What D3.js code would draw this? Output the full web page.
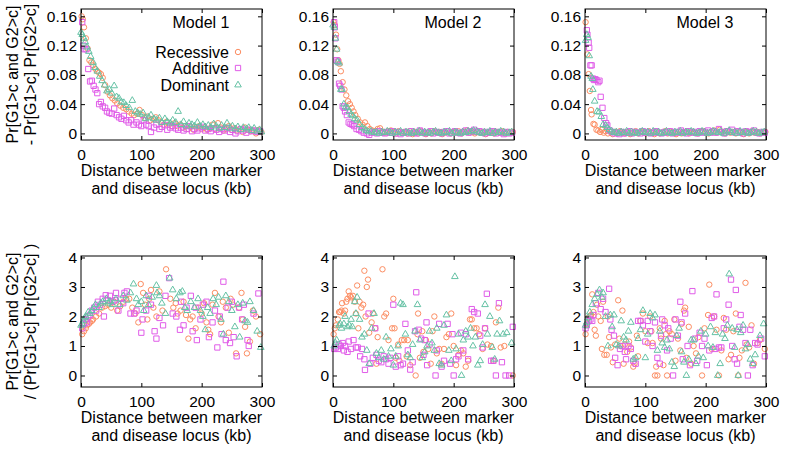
<!DOCTYPE html>
<html><head><meta charset="utf-8">
<script src="https://cdn.jsdelivr.net/npm/d3@7"></script>
<style>
html,body{margin:0;padding:0;background:#fff;}
svg{display:block;font-family:"Liberation Sans",Arial,Helvetica,sans-serif;}
</style></head>
<body>
<svg id="chart" width="785" height="451"></svg>
<script>
// ---------------- DATA ----------------
const seriesNames = ["Recessive", "Additive", "Dominant"];
const modelTitles = ["Model 1", "Model 2", "Model 3"];
const xTicks = [0, 100, 200, 300];
const diffTicks = [0, 0.04, 0.08, 0.12, 0.16];
const ratioTicks = [0, 1, 2, 3, 4];
const yLabelDiff = ["Pr[G1>c and G2>c]", "- Pr[G1>c] Pr[G2>c]"];
const yLabelRatio = ["Pr[G1>c and G2>c]", "/ (Pr[G1>c] Pr[G2>c] )"];
const xLabel = ["Distance between marker", "and disease locus (kb)"];

// Top row: Pr[G1>c and G2>c] - Pr[G1>c]Pr[G2>c]  ([distance kb, value])
const diffM1Rec = [[1,0.160],[3,0.156],[5,0.145],[8,0.13],[11,0.116],[14,0.10],[17,0.097],[20,0.093],[24,0.088],[27,0.085],[30,0.083],[33,0.081],[36,0.076],[40,0.066],[44,0.057],[48,0.052],[52,0.048],[56,0.045],[60,0.041],[65,0.038],[70,0.035],[75,0.033],[79,0.03],[84,0.027],[88,0.025],[93,0.027],[97,0.032],[101,0.025],[106,0.021],[110,0.023],[115,0.018],[119,0.02],[124,0.022],[128,0.018],[133,0.015],[137,0.012],[142,0.016],[146,0.012],[151,0.01],[155,0.014],[160,0.01],[164,0.012],[169,0.008],[173,0.01],[178,0.006],[182,0.009],[187,0.005],[191,0.008],[196,0.01],[200,0.006],[205,0.008],[209,0.005],[214,0.007],[218,0.012],[223,0.006],[227,0.014],[232,0.008],[236,0.004],[241,0.006],[245,0.01],[250,0.005],[254,0.007],[259,0.004],[263,0.006],[268,0.002],[272,0.008],[277,0.005],[281,0.003],[286,0.004],[290,0.0],[295,0.005],[299,0.002]];
const diffM1Add = [[2,0.152],[4,0.12],[6,0.115],[9,0.115],[12,0.088],[15,0.071],[18,0.072],[21,0.065],[24,0.06],[27,0.055],[30,0.04],[33,0.043],[36,0.037],[40,0.035],[43,0.03],[47,0.028],[51,0.027],[55,0.034],[59,0.025],[63,0.022],[67,0.02],[71,0.024],[75,0.018],[79,0.015],[83,0.018],[87,0.012],[92,0.015],[96,0.012],[100,0.01],[104,0.018],[108,0.012],[112,0.01],[116,0.002],[121,0.008],[125,0.012],[130,0.006],[134,0.009],[139,0.011],[143,0.005],[148,0.008],[152,0.01],[157,0.007],[161,0.005],[166,0.008],[170,0.004],[175,0.006],[179,0.01],[184,0.003],[188,0.006],[193,0.004],[197,0.007],[202,0.009],[206,0.004],[211,0.006],[215,0.003],[220,0.007],[224,0.005],[229,0.002],[233,0.006],[238,0.004],[242,0.007],[247,0.002],[251,0.005],[256,0.0],[260,0.003],[265,0.006],[269,0.004],[274,0.001],[278,0.005],[283,0.003],[287,0.004],[292,0.002],[297,0.003]];
const diffM1Dom = [[0,0.138],[2,0.135],[5,0.13],[7,0.125],[10,0.118],[13,0.112],[16,0.105],[20,0.097],[23,0.09],[27,0.085],[31,0.078],[35,0.072],[39,0.066],[43,0.058],[47,0.06],[51,0.055],[55,0.065],[59,0.05],[63,0.048],[67,0.043],[71,0.042],[75,0.038],[80,0.035],[85,0.045],[90,0.03],[94,0.028],[98,0.026],[103,0.028],[107,0.02],[112,0.022],[116,0.025],[121,0.02],[125,0.018],[130,0.021],[134,0.015],[139,0.02],[143,0.016],[148,0.014],[152,0.018],[157,0.015],[161,0.03],[166,0.012],[170,0.016],[175,0.01],[179,0.014],[184,0.012],[188,0.01],[193,0.015],[197,0.01],[202,0.012],[206,0.009],[211,0.011],[215,0.008],[220,0.013],[224,0.01],[229,0.007],[233,0.011],[238,0.008],[242,0.014],[247,0.007],[251,0.01],[256,0.006],[260,0.009],[265,0.005],[269,0.008],[274,0.006],[278,0.008],[283,0.004],[287,0.007],[292,0.003],[296,0.005],[299,0.002]];

const diffM2Rec = [[1,0.152],[3,0.148],[5,0.135],[7,0.115],[9,0.1],[11,0.095],[13,0.085],[16,0.07],[19,0.06],[22,0.052],[25,0.044],[28,0.04],[31,0.035],[34,0.03],[37,0.025],[41,0.02],[45,0.015],[49,0.012],[53,0.015],[57,0.01],[61,0.006],[65,0.004],[70,0.003],[74,0.006],[78,0.007],[83,0.002],[87,0.001],[92,0.003],[96,0.004],[100,0.002],[105,0.0],[109,0.003],[114,0.001],[118,0.002],[123,0.0],[127,0.003],[132,-0.001],[136,0.002],[141,0.0],[145,0.003],[150,0.001],[154,-0.001],[159,0.002],[163,0.0],[168,0.003],[172,0.001],[177,0.002],[181,-0.001],[186,0.001],[190,0.003],[195,0.0],[199,0.002],[204,0.001],[208,0.003],[213,0.0],[217,0.002],[222,0.004],[226,0.001],[231,0.002],[235,0.0],[240,0.003],[244,0.001],[249,0.002],[253,-0.001],[258,0.001],[262,0.003],[267,0.0],[271,0.002],[276,0.001],[280,0.003],[285,0.0],[289,0.002],[294,0.001],[298,0.002]];
const diffM2Add = [[2,0.152],[3,0.145],[4,0.13],[6,0.1],[8,0.098],[10,0.068],[12,0.065],[14,0.06],[16,0.037],[18,0.035],[20,0.03],[23,0.025],[26,0.015],[29,0.013],[32,0.012],[35,0.01],[39,0.006],[43,0.005],[47,0.003],[51,0.001],[56,0.0],[60,-0.002],[64,0.001],[68,0.002],[73,0.0],[77,0.003],[81,0.001],[86,0.0],[90,0.002],[95,0.001],[99,0.003],[103,0.0],[108,0.002],[112,-0.001],[117,0.001],[121,0.002],[126,0.0],[130,0.003],[135,0.001],[139,0.0],[144,0.004],[148,0.002],[153,0.0],[157,0.001],[162,0.003],[166,0.0],[171,0.002],[175,0.001],[180,0.0],[184,0.002],[189,0.003],[193,0.0],[198,0.001],[202,0.003],[207,0.001],[211,0.0],[216,0.002],[220,0.004],[225,0.001],[229,0.003],[234,0.005],[238,0.002],[243,0.003],[247,0.001],[252,0.0],[256,0.002],[261,0.001],[265,0.003],[270,0.0],[274,0.002],[279,0.001],[283,-0.001],[288,0.002],[292,0.0],[297,0.001]];
const diffM2Dom = [[0,0.148],[2,0.145],[4,0.13],[6,0.115],[8,0.098],[10,0.096],[13,0.06],[15,0.06],[18,0.04],[21,0.036],[24,0.035],[27,0.03],[30,0.026],[33,0.024],[36,0.02],[40,0.018],[44,0.012],[48,0.008],[52,0.006],[55,0.004],[59,0.002],[63,0.003],[68,0.001],[72,0.002],[76,0.0],[81,0.002],[85,0.001],[90,0.003],[94,0.002],[98,0.0],[103,0.002],[107,0.001],[112,0.003],[116,0.0],[121,0.002],[125,0.001],[130,0.0],[134,0.002],[139,0.001],[143,0.003],[148,0.0],[152,0.002],[157,0.001],[161,0.0],[166,0.002],[170,0.003],[175,0.001],[179,0.0],[184,0.002],[188,0.001],[193,0.003],[197,0.0],[202,0.002],[206,0.001],[211,0.0],[215,0.002],[220,0.001],[224,0.003],[229,0.002],[233,0.004],[238,0.003],[242,0.001],[247,0.0],[251,0.002],[256,0.001],[260,0.003],[265,0.0],[269,0.002],[274,0.001],[278,0.003],[283,0.002],[287,0.0],[292,0.001],[296,0.002]];

const diffM3Rec = [[1,0.152],[4,0.108],[6,0.081],[8,0.058],[10,0.032],[11,0.026],[14,0.013],[16,0.012],[19,0.005],[22,0.004],[25,0.002],[28,0.005],[31,0.001],[34,0.003],[38,0.0],[42,0.002],[46,-0.001],[50,0.002],[54,0.0],[58,0.003],[62,0.001],[66,0.0],[71,0.002],[75,-0.001],[79,0.001],[84,0.003],[88,0.0],[93,0.002],[97,0.001],[101,0.0],[106,0.003],[110,0.001],[115,-0.001],[119,0.002],[124,0.0],[128,0.001],[133,0.003],[137,0.0],[142,0.002],[146,0.001],[151,-0.001],[155,0.002],[160,0.0],[164,0.001],[169,0.003],[173,0.0],[178,0.002],[182,0.001],[187,0.0],[191,0.002],[196,0.003],[200,0.001],[205,0.0],[209,0.002],[214,0.004],[218,0.001],[223,0.005],[227,0.002],[232,0.0],[236,0.003],[241,0.001],[245,0.002],[250,0.0],[254,0.003],[259,0.001],[263,-0.001],[268,0.002],[272,0.0],[277,0.003],[281,0.001],[286,0.002],[290,0.0],[295,0.001],[299,0.002]];
const diffM3Add = [[3,0.141],[4,0.135],[6,0.124],[7,0.117],[9,0.093],[11,0.093],[13,0.075],[15,0.073],[17,0.074],[19,0.073],[22,0.07],[24,0.072],[26,0.05],[29,0.035],[32,0.021],[35,0.014],[37,0.011],[41,0.004],[45,0.002],[49,0.0],[53,0.001],[57,-0.001],[61,0.002],[65,0.0],[70,0.001],[74,0.003],[78,0.0],[83,0.002],[87,0.001],[92,0.0],[96,0.003],[100,0.001],[105,0.002],[109,0.0],[114,0.001],[118,0.003],[123,0.001],[127,0.0],[132,0.002],[136,0.001],[141,0.003],[145,0.0],[150,0.002],[154,0.001],[159,0.004],[163,0.002],[168,0.0],[172,0.003],[177,0.001],[181,0.002],[186,0.0],[190,0.003],[195,0.001],[199,0.002],[204,0.004],[208,0.001],[213,0.003],[217,0.001],[222,0.006],[226,0.002],[231,0.0],[235,0.003],[240,0.002],[244,0.005],[249,0.001],[253,0.003],[258,0.002],[262,0.0],[267,0.003],[271,0.001],[276,0.002],[280,0.004],[285,0.001],[289,0.0],[294,0.002],[298,0.001]];
const diffM3Dom = [[1,0.127],[3,0.135],[5,0.131],[7,0.106],[10,0.078],[12,0.075],[13,0.06],[16,0.044],[20,0.03],[23,0.029],[27,0.023],[30,0.012],[34,0.011],[37,0.008],[40,0.005],[44,0.003],[48,0.001],[52,0.002],[56,0.0],[60,0.002],[64,0.001],[69,0.003],[73,0.0],[77,0.002],[82,0.001],[86,0.0],[91,0.002],[95,0.003],[99,0.001],[104,0.002],[108,0.0],[113,0.003],[117,0.001],[122,0.002],[126,0.0],[131,0.001],[135,0.003],[140,0.001],[144,0.0],[149,0.002],[153,0.001],[158,0.003],[162,0.0],[167,0.002],[171,0.001],[176,0.003],[180,0.002],[185,0.0],[189,0.001],[194,0.003],[198,0.002],[203,0.0],[207,0.001],[212,0.003],[216,0.002],[221,0.001],[225,0.003],[230,0.0],[234,0.002],[239,0.004],[243,0.001],[248,0.002],[252,0.0],[257,0.003],[261,0.001],[266,0.002],[270,0.0],[275,0.001],[279,0.003],[284,0.002],[288,0.0],[293,0.001],[297,0.002]];

// Bottom row: Pr[G1>c and G2>c] / (Pr[G1>c]Pr[G2>c])
const ratioM1Rec = [[2,1.4],[5,1.5],[8,1.6],[10,1.7],[13,1.75],[15,1.8],[18,1.85],[20,1.9],[25,2.0],[30,2.1],[35,2.3],[40,2.35],[45,2.4],[50,2.3],[55,2.5],[60,2.2],[65,2.35],[70,2.5],[75,2.6],[80,2.6],[85,2.3],[90,2.1],[95,1.8],[99,3.1],[103,2.8],[106,2.4],[110,1.9],[113,2.6],[116,2.9],[120,2.3],[125,2.0],[130,2.85],[135,2.2],[141,3.6],[148,2.6],[153,2.3],[157,2.45],[160,2.1],[165,2.2],[170,2.5],[174,2.05],[178,1.25],[181,1.9],[185,2.0],[190,1.6],[195,2.3],[200,2.1],[204,2.45],[208,1.8],[211,1.55],[214,1.4],[218,2.4],[222,2.8],[228,2.0],[232,1.8],[235,2.5],[240,2.3],[245,1.45],[248,2.6],[252,2.4],[257,0.75],[262,2.3],[266,2.8],[268,1.9],[272,1.65],[275,0.75],[280,1.15],[285,2.2],[290,2.0],[297,1.4]];
const ratioM1Add = [[2,1.6],[5,1.75],[8,1.9],[10,1.8],[12,2.0],[15,2.05],[18,2.2],[22,2.3],[25,2.2],[28,2.5],[32,2.4],[36,2.6],[38,2.0],[41,2.72],[45,2.55],[48,2.7],[52,2.5],[56,2.55],[58,2.8],[62,2.2],[66,2.6],[70,2.45],[72,2.8],[76,2.85],[82,2.1],[88,2.1],[92,2.2],[100,1.45],[102,1.9],[108,2.2],[112,2.7],[116,2.4],[122,1.5],[125,1.25],[130,1.95],[136,1.7],[140,2.7],[146,3.3],[152,2.1],[158,2.0],[164,1.55],[166,2.5],[170,1.7],[175,2.3],[182,2.7],[185,1.5],[190,2.3],[192,1.2],[198,1.9],[202,2.4],[208,2.5],[212,1.3],[218,1.8],[222,2.2],[226,0.95],[230,2.0],[233,1.4],[236,3.18],[240,1.2],[243,2.3],[247,1.1],[250,2.5],[253,1.3],[258,0.65],[262,2.3],[267,1.9],[270,2.4],[276,1.2],[278,1.0],[286,2.1],[294,2.78]];
const ratioM1Dom = [[0,1.7],[2,1.75],[4,1.85],[6,1.95],[8,2.0],[12,2.15],[15,2.1],[18,2.2],[21,2.3],[24,2.4],[30,2.3],[33,2.45],[36,2.5],[42,2.6],[45,2.45],[48,2.5],[52,2.4],[58,2.6],[64,2.4],[70,2.7],[76,2.55],[82,2.8],[87,3.1],[92,2.6],[95,2.4],[100,2.5],[104,2.2],[108,2.7],[112,2.4],[118,2.65],[125,3.05],[126,2.8],[130,2.7],[134,2.45],[140,2.1],[147,3.3],[152,2.9],[158,2.6],[164,2.8],[168,2.85],[172,2.3],[176,2.2],[182,2.5],[188,2.3],[194,2.6],[198,2.2],[202,2.0],[206,1.55],[210,2.3],[214,2.1],[219,2.6],[224,2.4],[228,2.65],[232,1.9],[236,1.4],[240,2.7],[245,2.5],[250,2.2],[255,1.65],[260,2.4],[263,1.3],[268,2.45],[272,1.85],[276,1.8],[280,2.5],[286,2.2],[292,1.5],[298,0.95]];

const ratioM2Rec = [[1,1.4],[3,1.6],[5,1.7],[8,1.9],[10,2.15],[12,2.15],[14,2.2],[15,2.45],[18,2.1],[20,2.2],[22,2.5],[24,2.6],[26,2.85],[28,2.7],[30,2.65],[33,2.7],[36,2.5],[38,2.1],[40,3.05],[42,1.6],[44,2.5],[47,2.3],[50,2.4],[52,3.55],[54,2.0],[56,3.0],[58,3.25],[60,1.45],[64,1.8],[66,2.1],[70,1.6],[72,0.4],[74,1.3],[82,3.6],[85,2.0],[88,2.1],[92,1.2],[98,1.6],[100,2.6],[102,1.6],[104,0.6],[108,1.05],[110,0.5],[114,1.2],[118,1.2],[122,0.65],[124,1.2],[128,0.35],[137,0.0],[140,1.4],[141,2.1],[144,0.6],[148,1.5],[150,0.8],[154,1.2],[158,0.9],[162,0.4],[165,1.5],[168,2.0],[172,0.75],[176,0.9],[180,0.4],[184,0.9],[188,1.3],[192,1.4],[196,2.1],[200,1.0],[204,0.35],[208,0.7],[212,0.85],[216,0.75],[220,0.3],[224,0.5],[227,1.9],[230,1.9],[234,1.6],[238,1.6],[242,1.4],[248,0.9],[252,1.6],[256,1.05],[262,1.0],[266,0.5],[270,1.8],[274,2.3],[278,0.95],[284,1.0],[298,0.0]];
const ratioM2Add = [[2,0.9],[5,0.95],[8,0.9],[10,1.05],[13,1.0],[16,1.1],[18,0.85],[20,1.0],[24,0.8],[26,1.15],[30,0.9],[34,1.2],[38,0.95],[41,0.95],[45,0.65],[48,0.9],[52,0.55],[53,0.19],[59,2.1],[62,0.4],[66,0.6],[70,1.6],[72,0.7],[76,0.5],[80,0.45],[84,0.65],[88,0.55],[92,0.4],[95,0.6],[100,2.4],[104,0.3],[108,0.65],[112,0.35],[116,0.4],[120,1.75],[124,0.85],[128,0.2],[132,0.45],[136,1.5],[138,2.82],[142,1.55],[146,1.25],[150,0.7],[152,1.2],[155,1.8],[156,0.35],[160,1.05],[170,0.0],[172,0.85],[176,1.75],[180,0.3],[184,0.5],[190,1.75],[194,0.4],[198,1.4],[200,0.0],[204,0.55],[208,0.65],[212,1.45],[216,0.85],[220,1.4],[224,0.55],[230,2.25],[234,2.15],[240,2.1],[244,1.35],[248,0.95],[252,1.6],[255,2.77],[262,0.5],[266,0.5],[270,0.0],[275,2.45],[280,0.45],[286,0.0],[292,0.0],[298,1.65]];
const ratioM2Dom = [[2,1.0],[4,1.1],[6,1.2],[10,1.7],[12,1.75],[14,1.6],[18,1.75],[20,2.0],[24,1.65],[27,1.7],[30,1.9],[32,1.65],[36,2.5],[38,2.1],[40,2.65],[44,1.9],[48,1.3],[52,1.4],[56,0.85],[60,0.4],[64,1.6],[68,2.1],[72,0.75],[76,0.6],[80,0.85],[84,0.55],[88,1.3],[92,0.65],[96,0.9],[100,0.35],[104,0.65],[108,1.0],[112,2.45],[116,2.4],[120,1.4],[124,0.7],[128,0.6],[132,1.05],[136,1.5],[140,2.4],[144,1.2],[148,0.6],[152,0.8],[156,1.0],[160,1.5],[164,1.1],[168,0.85],[172,1.6],[176,0.4],[180,0.35],[184,1.7],[188,2.05],[192,0.85],[196,0.5],[202,3.35],[204,0.9],[208,1.4],[213,0.0],[216,1.2],[220,1.5],[224,1.3],[228,1.6],[232,1.0],[236,1.3],[240,0.35],[244,0.5],[248,1.05],[252,2.4],[256,1.4],[260,2.0],[264,0.95],[268,0.55],[272,1.4],[276,1.85],[282,1.4],[288,1.45],[296,1.1]];

const ratioM3Rec = [[1,1.4],[3,1.75],[5,1.95],[8,2.0],[10,2.05],[12,2.75],[14,2.15],[16,1.55],[18,1.35],[20,2.4],[22,2.0],[26,1.85],[28,0.9],[30,2.5],[32,0.7],[36,0.7],[38,2.0],[40,1.3],[43,0.95],[46,0.45],[50,1.05],[55,2.55],[57,1.25],[59,1.0],[62,2.2],[64,0.4],[66,1.05],[70,0.8],[73,1.15],[76,0.95],[80,0.3],[82,0.4],[86,1.35],[88,0.65],[92,1.85],[96,2.1],[100,1.5],[104,1.1],[108,2.0],[110,1.5],[112,1.1],[116,0.0],[118,0.3],[120,0.0],[124,1.6],[126,1.25],[130,0.35],[132,1.85],[134,1.4],[136,0.0],[140,1.5],[144,1.4],[148,1.9],[150,0.5],[154,1.25],[158,0.85],[160,1.75],[164,2.2],[166,2.3],[168,0.6],[172,1.65],[176,0.4],[180,1.0],[184,0.75],[188,1.3],[194,0.0],[198,1.6],[204,2.05],[206,3.08],[210,0.9],[214,2.0],[218,1.55],[222,0.0],[226,0.85],[230,1.95],[234,1.55],[238,0.55],[242,0.7],[246,1.5],[250,2.1],[254,0.0],[256,0.6],[260,0.85],[266,3.14],[268,1.05],[272,0.95],[276,1.7],[280,0.4],[286,1.1],[290,1.2],[298,0.9]];
const ratioM3Add = [[1,1.6],[3,1.7],[6,1.85],[9,1.9],[12,1.85],[14,2.05],[18,2.45],[22,2.8],[26,2.25],[30,2.6],[34,2.15],[40,2.94],[42,1.9],[44,1.55],[48,1.35],[50,0.6],[54,0.35],[58,0.9],[62,1.0],[66,0.8],[68,0.55],[72,1.0],[76,0.9],[80,0.5],[84,0.4],[88,1.85],[92,1.85],[96,1.7],[100,1.15],[104,1.85],[108,1.5],[112,1.0],[116,1.8],[120,0.6],[124,0.4],[126,1.35],[128,1.9],[132,1.7],[136,0.85],[138,1.6],[142,1.25],[146,0.0],[150,1.9],[154,1.35],[158,2.5],[160,1.8],[162,0.55],[166,2.1],[170,1.0],[174,0.35],[178,2.86],[182,1.25],[186,0.5],[190,1.45],[194,1.0],[198,1.25],[202,0.35],[206,0.85],[210,1.95],[214,2.0],[216,0.9],[218,2.75],[222,0.95],[226,0.95],[230,1.6],[234,1.9],[238,2.4],[242,3.25],[244,1.0],[248,0.55],[250,2.9],[252,0.4],[256,1.65],[258,2.05],[262,1.55],[266,1.1],[270,0.0],[274,1.55],[278,0.35],[282,1.1],[286,1.05],[292,1.25],[298,0.65]];
const ratioM3Dom = [[1,1.7],[3,1.8],[5,1.95],[8,2.15],[12,2.4],[16,2.6],[20,2.75],[24,2.9],[28,2.65],[30,2.8],[34,2.0],[38,1.0],[42,2.05],[45,1.65],[48,2.05],[52,1.05],[56,1.0],[60,1.85],[64,1.3],[68,1.2],[72,1.5],[76,1.8],[80,0.55],[84,0.6],[88,1.25],[92,1.55],[96,2.2],[100,0.6],[104,1.4],[108,2.1],[112,1.95],[116,2.05],[120,0.85],[124,1.5],[128,1.1],[132,0.95],[136,1.2],[140,0.9],[144,0.45],[148,0.3],[152,1.35],[156,1.6],[160,0.8],[164,0.45],[168,0.0],[172,0.55],[176,1.2],[180,1.2],[184,0.4],[188,0.65],[192,1.5],[196,0.6],[200,1.4],[204,1.0],[208,1.65],[212,0.95],[216,1.45],[220,0.0],[224,0.4],[228,1.4],[232,1.25],[236,1.7],[239,3.44],[244,1.6],[248,0.95],[252,1.55],[254,0.0],[258,1.45],[262,1.7],[266,0.9],[270,1.05],[274,0.55],[278,0.4],[282,0.7],[290,1.35],[296,1.75]];

// ---------------- LAYOUT / STYLE ----------------
const W = 785, H = 451;
const colLeft = [81, 333, 585];
const rowTop = [9, 256];
const pw = 181, ph = 131;
const colors = ["#fc8d62", "#e05ce8", "#66c2a5"];
const shapes = [d3.symbolCircle, d3.symbolSquare, d3.symbolTriangle];
const shapeSize = [23, 28, 19];
const font = "\"Liberation Sans\",Arial,Helvetica,sans-serif";

const panels = [
  {row:0, col:0, data:[diffM1Rec, diffM1Add, diffM1Dom]},
  {row:0, col:1, data:[diffM2Rec, diffM2Add, diffM2Dom]},
  {row:0, col:2, data:[diffM3Rec, diffM3Add, diffM3Dom]},
  {row:1, col:0, data:[ratioM1Rec, ratioM1Add, ratioM1Dom]},
  {row:1, col:1, data:[ratioM2Rec, ratioM2Add, ratioM2Dom]},
  {row:1, col:2, data:[ratioM3Rec, ratioM3Add, ratioM3Dom]}
];

const svg = d3.select("#chart");
svg.append("rect").attr("width", W).attr("height", H).attr("fill", "#fff");

panels.forEach(p => {
  const L = colLeft[p.col], T = rowTop[p.row];
  const x = d3.scaleLinear().domain([0, 300]).range([L, L + pw]);
  const y = p.row === 0
    ? d3.scaleLinear().domain([-0.009, 0.170]).range([T + ph, T])
    : d3.scaleLinear().domain([-0.39, 4.05]).range([T + ph, T]);
  const yt = p.row === 0 ? diffTicks : ratioTicks;
  const yfmt = p.row === 0 ? (d => d === 0 ? "0" : d3.format(".2f")(d)) : d3.format("d");
  const g = svg.append("g");

  // points
  p.data.forEach((s, si) => {
    g.append("g").selectAll("path").data(s).join("path")
      .attr("d", d3.symbol().type(shapes[si]).size(shapeSize[si]))
      .attr("transform", d => `translate(${x(d[0])},${y(d[1])})`)
      .attr("fill", "none").attr("stroke", colors[si]).attr("stroke-width", 1);
  });

  // axes with inward ticks
  const ax = g.append("g").attr("transform", `translate(0,${T + ph})`)
    .call(d3.axisBottom(x).tickValues(xTicks).tickSizeInner(-4).tickSizeOuter(0).tickPadding(9));
  const axT = g.append("g").attr("transform", `translate(0,${T})`)
    .call(d3.axisTop(x).tickValues(xTicks).tickSizeInner(-4).tickSizeOuter(0).tickFormat(""));
  const ay = g.append("g").attr("transform", `translate(${L},0)`)
    .call(d3.axisLeft(y).tickValues(yt).tickFormat(yfmt).tickSizeInner(-4).tickSizeOuter(0).tickPadding(4));
  const ayR = g.append("g").attr("transform", `translate(${L + pw},0)`)
    .call(d3.axisRight(y).tickValues(yt).tickSizeInner(-4).tickSizeOuter(0).tickFormat(""));
  [ax, axT, ay, ayR].forEach(a => {
    a.select(".domain").remove();
    a.selectAll("line").attr("stroke", "#000");
    a.selectAll("text").attr("fill", "#000").style("font-family", font).style("font-size", "15.5px");
  });
  g.append("rect").attr("x", L).attr("y", T).attr("width", pw).attr("height", ph)
    .attr("fill", "none").attr("stroke", "#000").attr("stroke-width", 1);

  // x label
  xLabel.forEach((t, i) => {
    g.append("text").attr("x", L + pw / 2).attr("y", T + ph + 36 + i * 18)
      .attr("text-anchor", "middle").style("font-family", font).style("font-size", "16px").text(t);
  });

  // title
  if (p.row === 0) {
    g.append("text").attr("x", L + 120).attr("y", 28).attr("text-anchor", "middle")
      .style("font-family", font).style("font-size", "16px").text(modelTitles[p.col]);
  }
});

// y labels (left column)
[yLabelDiff, yLabelRatio].forEach((lines, r) => {
  const cy = rowTop[r] + ph / 2;
  lines.forEach((t, i) => {
    svg.append("text")
      .attr("transform", `translate(${12 + i * 18},${cy}) rotate(-90)`)
      .attr("text-anchor", "middle").attr("dy", "0.36em")
      .style("font-family", font).style("font-size", "16px").text(t);
  });
});

// legend (panel 1)
const legX = 238, legY = [52, 68, 85];
seriesNames.forEach((n, i) => {
  svg.append("text").attr("x", legX - 9).attr("y", legY[i]).attr("dy", "0.36em")
    .attr("text-anchor", "end").style("font-family", font).style("font-size", "16px").text(n);
  svg.append("path").attr("d", d3.symbol().type(shapes[i]).size(shapeSize[i])())
    .attr("transform", `translate(${legX},${legY[i]})`)
    .attr("fill", "none").attr("stroke", colors[i]).attr("stroke-width", 1);
});
</script>
</body></html>
